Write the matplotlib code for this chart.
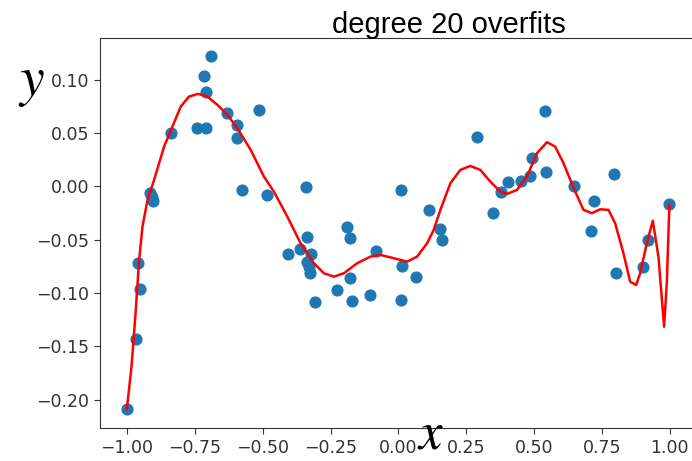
import matplotlib.pyplot as plt

# scattered samples
x_pts = [-1.001, -0.968, -0.954, -0.960, -0.915, -0.908, -0.906, -0.837, -0.741, -0.710,
         -0.717, -0.709, -0.689, -0.630, -0.596, -0.594, -0.578, -0.513, -0.483, -0.407,
         -0.363, -0.342, -0.336, -0.321, -0.338, -0.330, -0.327, -0.309, -0.228, -0.191,
         -0.179, -0.179, -0.170, -0.103, -0.084, 0.008, 0.014, 0.008, 0.0655, 0.112,
         0.155, 0.160, 0.290, 0.349, 0.378, 0.406, 0.452, 0.486, 0.493, 0.545,
         0.539, 0.646, 0.796, 0.723, 0.710, 0.803, 0.901, 0.920, 0.999]
y_pts = [-0.209, -0.143, -0.096, -0.072, -0.0066, -0.0105, -0.0135, 0.050, 0.055, 0.055,
         0.1035, 0.0887, 0.122, 0.069, 0.0575, 0.045, -0.0035, 0.0716, -0.0085, -0.0638,
         -0.0591, -0.0003, -0.0473, -0.0638, -0.0707, -0.0754, -0.0816, -0.109, -0.097, -0.038,
         -0.049, -0.086, -0.108, -0.102, -0.061, -0.004, -0.0745, -0.107, -0.085, -0.022,
         -0.040, -0.050, 0.0465, -0.025, -0.005, 0.0043, 0.0053, 0.0097, 0.0268, 0.0137,
         0.0709, 0.0003, 0.0115, -0.0135, -0.0419, -0.081, -0.0754, -0.0504, -0.0169]

# degree 20 fit
x_fit = [-1.001, -0.9838, -0.968, -0.9558, -0.9433, -0.9249, -0.9006, -0.8638, -0.8328, -0.8023,
         -0.7717, -0.7386, -0.7040, -0.6672, -0.6303, -0.5935, -0.5445, -0.4956, -0.4588, -0.4094,
         -0.3604, -0.3115, -0.2747, -0.2378, -0.2010, -0.1517, -0.1027, -0.0659, -0.0169, 0.0324,
         0.0692, 0.1060, 0.1303, 0.1550, 0.1918, 0.2286, 0.2655, 0.3023, 0.3391, 0.3759,
         0.4006, 0.4374, 0.4742, 0.5110, 0.5479, 0.5784, 0.6090, 0.6458, 0.6826, 0.7135,
         0.7441, 0.7747, 0.7993, 0.8299, 0.8546, 0.8767, 0.8914, 0.9161, 0.9381, 0.9588,
         0.9798, 0.9897, 0.9993]
y_fit = [-0.2089, -0.1692, -0.1160, -0.0691, -0.0379, -0.0129, 0.0059, 0.0371, 0.0559, 0.0747,
         0.0841, 0.0866, 0.0841, 0.0763, 0.0669, 0.0544, 0.0341, 0.0090, -0.0051, -0.0285,
         -0.0535, -0.0722, -0.0816, -0.0848, -0.0816, -0.0722, -0.0660, -0.0644, -0.0675, -0.0707,
         -0.0660, -0.0535, -0.0410, -0.0222, 0.0028, 0.0153, 0.0190, 0.0153, 0.0043, -0.0051,
         -0.0072, -0.0035, 0.0090, 0.0310, 0.0413, 0.0371, 0.0216, -0.0016, -0.0222, -0.0253,
         -0.0216, -0.0222, -0.0347, -0.0629, -0.0895, -0.0926, -0.0816, -0.0535, -0.0323, -0.0660,
         -0.1317, -0.0910, -0.0175]

x_ticks = [-1.0, -0.75, -0.5, -0.25, 0.0, 0.25, 0.5, 0.75, 1.0]
y_ticks = [-0.20, -0.15, -0.10, -0.05, 0.00, 0.05, 0.10]

fig = plt.figure(figsize=(6.92, 4.61), dpi=100)
ax = fig.add_axes([0.1445, 0.0716, 0.8623, 0.846])
ax.scatter(x_pts, y_pts, s=60, color='C0', zorder=2)
ax.plot(x_fit, y_fit, color='red', linewidth=1.8, zorder=3)
ax.set_xlim(-1.1, 1.1)
ax.set_ylim(-0.2267, 0.139)
ax.set_xticks(x_ticks)
ax.set_yticks(y_ticks)
ax.tick_params(labelsize=12.5, length=4.5, colors='#333333')
for s in ax.spines.values():
    s.set_color('#333333')

fig.text(0.649, 0.928, 'degree 20 overfits', ha='center', va='baseline',
         fontsize=21, family='Liberation Sans')
plt.rcParams['mathtext.fontset'] = 'stix'
fig.text(0.026, 0.794, '$y$', fontsize=40, va='baseline')
fig.text(0.602, 0.004, '$x$', fontsize=38, va='bottom')

fig.savefig('out.png', dpi=100)
